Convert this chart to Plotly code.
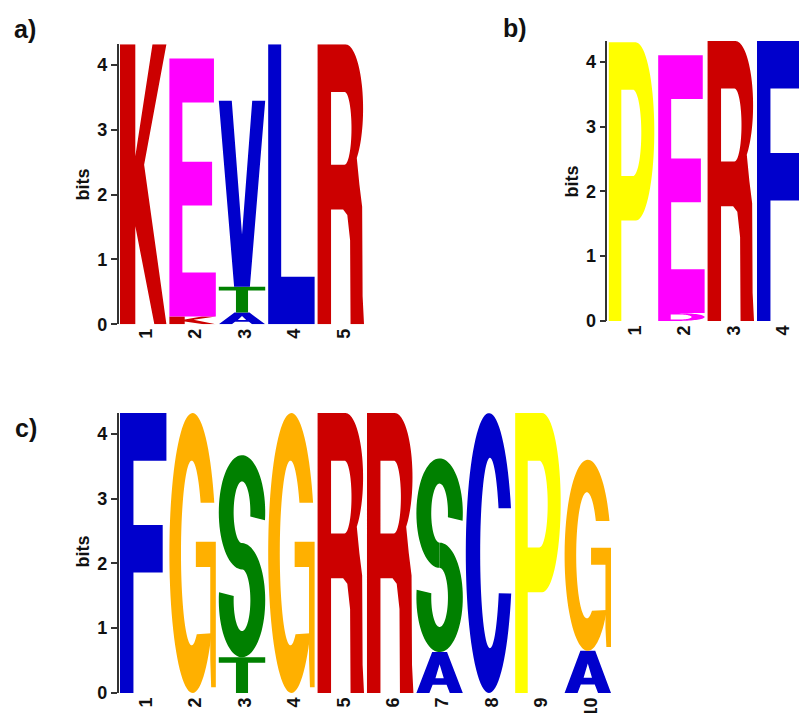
import numpy as np
import plotly.graph_objects as go

# ---------------- data ----------------
a_positions = ["1", "2", "3", "4", "5"]
a_letters = [["K"], ["K", "E"], ["A", "T", "V"], ["L"], ["R"]]
a_bits = [[4.32], [0.12, 3.98], [0.18, 0.40, 2.87], [4.32], [4.32]]

b_positions = ["1", "2", "3", "4"]
b_letters = [["P"], ["D", "E"], ["R"], ["F"]]
b_bits = [[4.30], [0.12, 3.98], [4.32], [4.32]]

c_positions = ["1", "2", "3", "4", "5", "6", "7", "8", "9", "10"]
c_letters = [["F"], ["G"], ["T", "S"], ["G"], ["R"], ["R"], ["A", "S"], ["C"], ["P"], ["A", "G"]]
c_bits = [[4.32], [4.32], [0.55, 3.12], [4.32], [4.32], [4.32], [0.63, 2.99], [4.32], [4.32], [0.65, 2.95]]

letter_colors = {
    "K": "#CC0000", "R": "#CC0000",
    "E": "#FF00FF", "D": "#FF00FF",
    "V": "#0000CC", "A": "#0000CC", "L": "#0000CC", "F": "#0000CC", "C": "#0000CC",
    "T": "#008000", "S": "#008000",
    "P": "#FFFF00",
    "G": "#FFB000",
}

# ---------------- glyph outlines (unit box) ----------------
def arc(cx, cy, rx, ry, a0, a1, n=40):
    t = np.radians(np.linspace(a0, a1, n))
    return [(cx + rx * np.cos(v), cy + ry * np.sin(v)) for v in t]

def glyph(ch):
    """Return list of pieces; each piece is a list of rings (evenodd fill)."""
    if ch == "K":
        return [[[(0, 0), (0, 1), (0.33, 1), (0.33, 0.6), (0.7, 1), (1, 1), (0.52, 0.57),
                  (1, 0), (0.74, 0), (0.33, 0.35), (0.33, 0)]]]
    if ch == "E":
        return [[[(0, 0), (0, 1), (0.96, 1), (0.96, 0.83), (0.28, 0.83), (0.28, 0.6), (0.92, 0.6),
                  (0.92, 0.43), (0.28, 0.43), (0.28, 0.17), (1, 0.17), (1, 0)]]]
    if ch == "F":
        return [[[(0, 0), (0, 1), (1, 1), (1, 0.83), (0.29, 0.83), (0.29, 0.6), (0.92, 0.6),
                  (0.92, 0.43), (0.29, 0.43), (0.29, 0)]]]
    if ch == "L":
        return [[[(0, 0), (0, 1), (0.28, 1), (0.28, 0.17), (1, 0.17), (1, 0)]]]
    if ch == "T":
        return [[[(0, 1), (1, 1), (1, 0.85), (0.63, 0.85), (0.63, 0), (0.37, 0), (0.37, 0.85), (0, 0.85)]]]
    if ch == "V":
        return [[[(0, 1), (0.28, 1), (0.5, 0.28), (0.72, 1), (1, 1), (0.67, 0), (0.33, 0)]]]
    if ch == "A":
        return [[[(0, 0), (0.34, 1), (0.66, 1), (1, 0), (0.72, 0), (0.65, 0.2), (0.35, 0.2), (0.28, 0)],
                 [(0.41, 0.36), (0.59, 0.36), (0.5, 0.7)]]]
    if ch == "P":
        outer = [(0, 0), (0, 1), (0.58, 1)] + arc(0.58, 0.68, 0.4, 0.32, 90, -90) + [(0.27, 0.36), (0.27, 0)]
        hole = [(0.27, 0.83), (0.52, 0.83)] + arc(0.52, 0.675, 0.18, 0.155, 90, -90) + [(0.27, 0.52)]
        return [[outer, hole]]
    if ch == "R":
        outer = ([(0, 0), (0, 1), (0.6, 1)] + arc(0.6, 0.77, 0.38, 0.23, 90, -50) +
                 [(0.9, 0.5), (0.96, 0.42), (0.97, 0.1), (1, 0), (0.71, 0), (0.7, 0.3),
                  (0.64, 0.39), (0.55, 0.41), (0.29, 0.41), (0.29, 0)])
        hole = [(0.29, 0.83), (0.58, 0.83)] + arc(0.58, 0.7, 0.15, 0.13, 90, -90) + [(0.29, 0.57)]
        return [[outer, hole]]
    if ch == "D":
        outer = [(0, 0), (0, 1), (0.45, 1)] + arc(0.45, 0.5, 0.55, 0.5, 90, -90)
        hole = [(0.27, 0.17), (0.27, 0.83), (0.45, 0.83)] + arc(0.45, 0.5, 0.27, 0.33, 90, -90)
        return [[outer, hole]]
    if ch == "C":
        ring = arc(0.5, 0.5, 0.5, 0.5, 18.7, 343.2, 80) + arc(0.52, 0.5, 0.21, 0.34, 335, 28, 80)
        return [[ring]]
    if ch == "G":
        ring = (arc(0.5, 0.5, 0.5, 0.5, 21, 325, 80) + [(0.59, 0.21)] +
                arc(0.48, 0.5, 0.23, 0.33, -62, -327, 80))
        bar = [(0.57, 0.54), (1.0, 0.54), (1.0, 0.02), (0.9, 0.02), (0.88, 0.12), (0.88, 0.45), (0.57, 0.45)]
        return [[ring], [bar]]
    if ch == "S":
        t = 0.13
        ryo = 0.25 + t / 4
        ryi = ryo - t
        rxo, rxi = 0.5, 0.18
        y1, y2 = 1 - ryo, ryo
        up = arc(0.5, y1, rxo, ryo, -8, 270, 60) + arc(0.5, y1, rxi, ryi, 270, -8, 60)
        lo = arc(0.5, y2, rxo, ryo, 90, -188, 60) + arc(0.5, y2, rxi, ryi, -188, 90, 60)
        return [[up], [lo]]
    return []

def ring_path(points):
    s = "M {:.4f},{:.4f} ".format(*points[0])
    s += " ".join("L {:.4f},{:.4f}".format(x, y) for x, y in points[1:])
    return s + " Z"

def logo_shapes(letters, bits, xref, yref, half=0.47):
    shapes = []
    for i, (lets, hs) in enumerate(zip(letters, bits)):
        xc = i + 1
        y0 = 0.0
        for ch, h in zip(lets, hs):
            for piece in glyph(ch):
                path = " ".join(
                    ring_path([(xc - half + 2 * half * x, y0 + h * y) for x, y in ring])
                    for ring in piece)
                shapes.append(dict(type="path", path=path, xref=xref, yref=yref,
                                   fillcolor=letter_colors[ch], fillrule="evenodd",
                                   line=dict(width=0), layer="above"))
            y0 += h
    return shapes

# ---------------- figure ----------------
# target picture is 799x713; the page viewport is a little taller than the photo,
# so the figure is sized to the viewport and laid out in picture fractions
W, H = 799, 725
TW, TH = 799, 713
COL = 49.4

def px_x(p):
    return p / TW

def px_y(p):
    return 1 - p / TH

fig = go.Figure()

panels = [
    # letters, bits, positions, axis x (px), zero y (px), x range end, axis suffix
    (a_letters, a_bits, a_positions, 118.5, 323.3, len(a_positions) + 0.5, ""),
    (b_letters, b_bits, b_positions, 607.3, 320.0, 0.5 + (TW - 607.3) / COL, "2"),
    (c_letters, c_bits, c_positions, 118.5, 691.0, len(c_positions) + 0.5, "3"),
]

BIT = 64.6
YMAX = 4.32
shapes = []
tickfont = dict(family="Liberation Sans", size=18, color="#111111", weight="bold")
for letters, bits, positions, x0, yzero, xend, sfx in panels:
    xname = "xaxis" + sfx
    yname = "yaxis" + sfx
    xref = "x" + sfx
    yref = "y" + sfx
    xr1 = x0 + (xend - 0.5) * COL
    dom_x = [px_x(x0), min(px_x(xr1), 1.0)]
    dom_y = [px_y(yzero), px_y(yzero - YMAX * BIT)]
    fig.add_trace(go.Scatter(
        x=list(range(1, len(positions) + 1)), y=[sum(h) for h in bits],
        mode="markers", marker=dict(opacity=0), hoverinfo="skip", showlegend=False,
        xaxis=xref, yaxis=yref))
    fig.layout[xname] = dict(
        domain=dom_x, range=[0.5, xend], anchor=yref, showgrid=False, zeroline=False,
        showline=False, ticks="", tickmode="array",
        tickvals=list(range(1, len(positions) + 1)), ticktext=positions,
        tickangle=-90, tickfont=tickfont, ticklabelshift=3, fixedrange=True)
    fig.layout[yname] = dict(
        domain=dom_y, range=[0, YMAX], anchor=xref, showgrid=False, zeroline=False,
        showline=True, linecolor="#333333", linewidth=1.5, ticks="outside", ticklen=6,
        tickwidth=1.5, tickcolor="#333333", tickvals=[0, 1, 2, 3, 4],
        tickfont=tickfont, fixedrange=True)
    shapes += logo_shapes(letters, bits, xref, yref)

annotations = []
for txt, px, py in [("a)", 25, 29), ("b)", 515, 28), ("c)", 26, 427)]:
    annotations.append(dict(text=txt, x=px_x(px), y=px_y(py), xref="paper", yref="paper",
                            showarrow=False, xanchor="center", yanchor="middle",
                            font=dict(family="Liberation Sans", size=25, color="#111111", weight="bold")))
for px, py in [(83, 184), (572, 181), (83, 550)]:
    annotations.append(dict(text="bits", x=px_x(px), y=px_y(py), xref="paper", yref="paper",
                            showarrow=False, textangle=-90, xanchor="center", yanchor="middle",
                            font=dict(family="Liberation Sans", size=18, color="#111111", weight="bold")))

fig.update_layout(
    width=W, height=H, margin=dict(l=0, r=0, t=0, b=0),
    paper_bgcolor="white", plot_bgcolor="white",
    shapes=shapes, annotations=annotations, showlegend=False)

fig.write_html(
    "out.html",
    config={"displayModeBar": False},
    post_script="document.body.style.margin='0px';"
                "document.body.style.overflow='hidden';"
                "document.documentElement.style.overflow='hidden';")
